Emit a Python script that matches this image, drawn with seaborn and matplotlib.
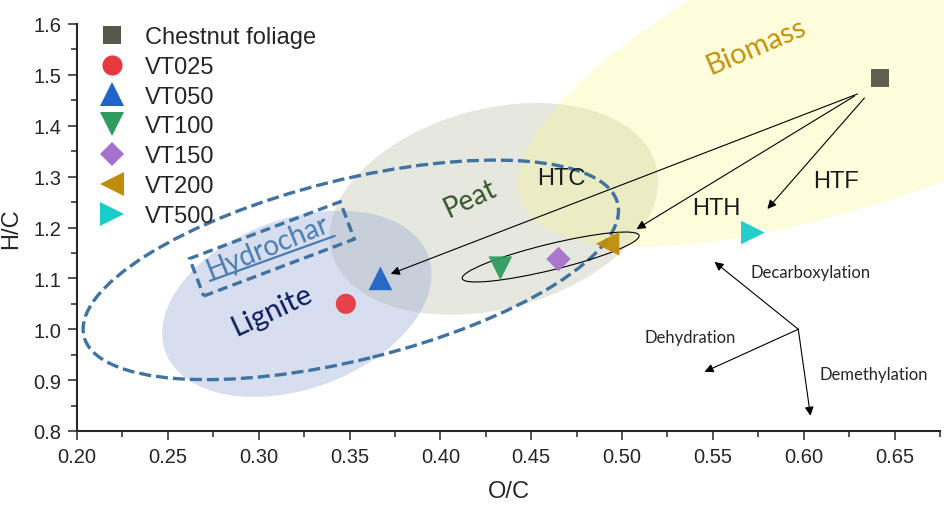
import matplotlib
matplotlib.use("Agg")
import matplotlib.pyplot as plt
import matplotlib.transforms as mtransforms
from matplotlib import font_manager
from matplotlib.patches import Ellipse, Rectangle
from matplotlib.lines import Line2D
from matplotlib.ticker import MultipleLocator, FormatStrFormatter
import seaborn as sns
import pandas as pd

# data
samples = ["Chestnut foliage", "VT025", "VT050", "VT100", "VT150", "VT200", "VT500"]
oc_ratio = [0.642, 0.348, 0.367, 0.433, 0.465, 0.492, 0.572]
hc_ratio = [1.494, 1.050, 1.100, 1.120, 1.138, 1.168, 1.190]
colors = ["#57574a", "#e63a40", "#1f63c6", "#2e9c5f", "#a671cc", "#c08d08", "#19cccc"]
markers = ["s", "o", "^", "v", "D", "<", ">"]
marker_area = [170, 210, 290, 290, 155, 290, 290]

x_ticks_step, y_ticks_step = 0.05, 0.1

sns.set_style("ticks")
plt.rcParams['font.family'] = ['Liberation Sans', 'DejaVu Sans']

installed = {f.name for f in font_manager.fontManager.ttflist}
narrow = 'Liberation Sans Narrow' if 'Liberation Sans Narrow' in installed else 'Liberation Sans'
soft = 'Lato' if 'Lato' in installed else 'Open Sans'

df = pd.DataFrame({"O/C": oc_ratio, "H/C": hc_ratio, "sample": samples})

fig, ax = plt.subplots(figsize=(9.45, 5.06), dpi=100)
fig.subplots_adjust(left=77/945, right=940/945, top=1-25/506, bottom=1-432/506)

ax.set_xlim(0.20, 0.675)
ax.set_ylim(0.80, 1.60)


def px_patch(patch_cls, cx, cy, *args, **kw):
    # shapes sized in pixels, centred on a data point
    tr = fig.dpi_scale_trans + mtransforms.ScaledTranslation(cx, cy, ax.transData)
    p = patch_cls(*args, transform=tr, **kw)
    ax.add_patch(p)
    return p


# regions (centre in data units, size in inches at 100 dpi, angle in deg)
px_patch(Ellipse, 0.4294, 1.2365, (0, 0), 3.36, 2.00, angle=15,
         facecolor="#b5bca0", alpha=0.33, edgecolor="none", zorder=1)
px_patch(Ellipse, 0.669, 1.575, (0, 0), 8.80, 2.80, angle=22,
         facecolor="#f8f880", alpha=0.28, edgecolor="none", zorder=1, clip_on=False)
px_patch(Ellipse, 0.321, 1.050, (0, 0), 2.80, 1.70, angle=20,
         facecolor="#8fa3d4", alpha=0.35, edgecolor="none", zorder=1)

dash_col = "#4072a2"
px_patch(Ellipse, 0.3507, 1.1167, (0, 0), 5.50, 1.80, angle=14,
         facecolor="none", edgecolor=dash_col, lw=2.4, linestyle=(0, (3.6, 1.5)), zorder=3)
px_patch(Rectangle, 0.3073, 1.158, (-0.805, -0.20), 1.61, 0.40, angle=20.7,
         rotation_point="center", facecolor="none", edgecolor=dash_col, lw=2.4,
         linestyle=(0, (3.0, 1.6)), zorder=3)
px_patch(Ellipse, 0.4607, 1.142, (0, 0), 1.82, 0.26, angle=13.7,
         facecolor="none", edgecolor="black", lw=0.8, zorder=3)

# points
sns.scatterplot(data=df, x="O/C", y="H/C", hue="sample", style="sample", size="sample",
                palette=dict(zip(samples, colors)), markers=dict(zip(samples, markers)),
                sizes=dict(zip(samples, marker_area)), linewidth=0, alpha=0.95,
                legend=False, ax=ax, zorder=6)

# conversion arrows
conv_start = [(0.6296, 1.4625), (0.628, 1.4585), (0.6334, 1.4546)]
conv_end = [(0.3727, 1.1088), (0.508, 1.197), (0.580, 1.2365)]
for s, e in zip(conv_start, conv_end):
    ax.annotate("", xy=e, xytext=s,
                arrowprops=dict(arrowstyle="-|>", lw=0.8, color="black",
                                mutation_scale=13, shrinkA=0, shrinkB=0), zorder=5)

# reaction pathway arrows
origin = (0.597, 1.0)
path_ends = [(0.5509, 1.1324), (0.5454, 0.9163), (0.6037, 0.8299)]
for e in path_ends:
    ax.annotate("", xy=e, xytext=origin,
                arrowprops=dict(arrowstyle="-|>", lw=0.8, color="black",
                                mutation_scale=13, shrinkA=0, shrinkB=0), zorder=5)

ax.text(0.5707, 1.1128, "Decarboxylation", fontsize=12, family=soft, va="center", ha="left")
ax.text(0.5124, 0.985, "Dehydration", fontsize=12, family=soft, va="center", ha="left")
ax.text(0.6087, 0.9124, "Demethylation", fontsize=12, family=soft, va="center", ha="left")

ax.text(0.4668, 1.2975, "HTC", fontsize=17, ha="center", va="center", color="#1a1a1a", zorder=4)
ax.text(0.552, 1.2385, "HTH", fontsize=17, ha="center", va="center", color="#1a1a1a", zorder=4)
ax.text(0.6175, 1.2916, "HTF", fontsize=17, ha="center", va="center", color="#1a1a1a", zorder=4)

ax.text(0.574, 1.557, "Biomass", fontsize=21, family=soft, rotation=23, color="#c4920c",
        ha="center", va="center", rotation_mode="anchor", zorder=4)
ax.text(0.4162, 1.258, "Peat", fontsize=20, family=soft, rotation=25, color="#33552a",
        ha="center", va="center", rotation_mode="anchor", zorder=4)
ax.text(0.3073, 1.0381, "Lignite", fontsize=21, family=soft, rotation=25, color="#0d1c5c",
        ha="center", va="center", rotation_mode="anchor", zorder=4)
ax.text(0.3051, 1.1619, "Hydrochar", fontsize=20, family=soft, rotation=22, color="#4a7db0",
        ha="center", va="center", rotation_mode="anchor", zorder=4)
underline_x = [0.2732, 0.3419]
underline_y = [1.0951, 1.1835]
ax.plot(underline_x, underline_y, color="#4a7db0", lw=1.6, zorder=4)

# legend
handles = [Line2D([], [], linestyle="none", marker=m, color=c, markersize=a ** 0.5,
                  markeredgewidth=0) for m, c, a in zip(markers, colors, marker_area)]
ax.legend(handles, samples, loc="upper left", bbox_to_anchor=(0.027, 0.995), frameon=False,
          fontsize=17, handlelength=0.95, handletextpad=0.95, labelspacing=0.33,
          borderpad=0, borderaxespad=0)

# axes styling
sns.despine(ax=ax)
for side in ["left", "bottom"]:
    ax.spines[side].set_linewidth(1.5)
ax.xaxis.set_major_locator(MultipleLocator(x_ticks_step))
ax.xaxis.set_minor_locator(MultipleLocator(x_ticks_step / 2))
ax.yaxis.set_major_locator(MultipleLocator(y_ticks_step))
ax.yaxis.set_minor_locator(MultipleLocator(y_ticks_step / 2))
ax.xaxis.set_major_formatter(FormatStrFormatter("%.2f"))
ax.yaxis.set_major_formatter(FormatStrFormatter("%.1f"))
ax.tick_params(which="major", length=6.5, width=1.1, direction="out", labelsize=14.5, pad=5)
ax.tick_params(which="minor", length=4.3, width=1.1, direction="out")
for lab in ax.get_xticklabels() + ax.get_yticklabels():
    lab.set_family(narrow)

ax.set_xlabel("O/C", fontsize=17, labelpad=10)
ax.set_ylabel("H/C", fontsize=17, labelpad=8)

fig.savefig("out.png", dpi=100)
